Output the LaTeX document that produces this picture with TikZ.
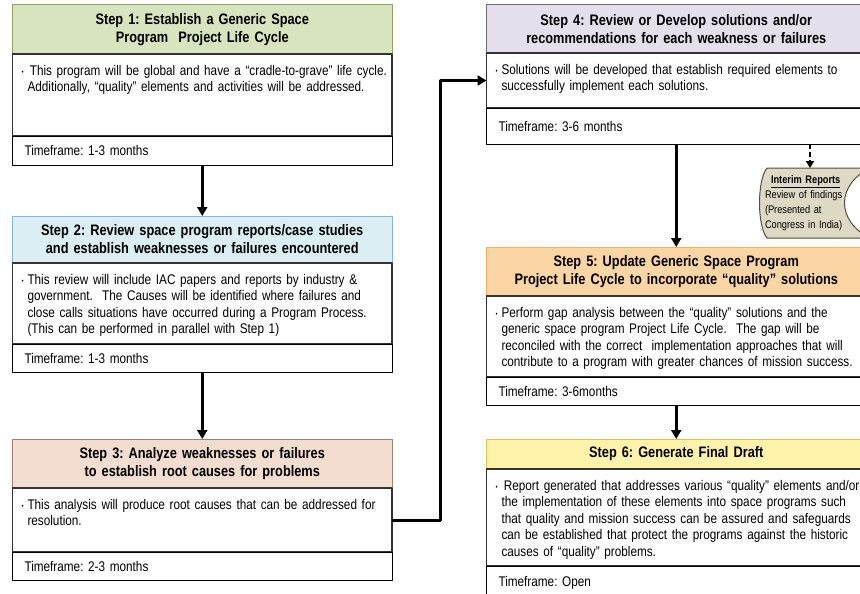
\documentclass[tikz,border=0pt]{standalone}
\usepackage{fontspec}
\setmainfont{Liberation Sans}[FakeStretch=0.84]
\usetikzlibrary{positioning,arrows.meta}

\definecolor{grnfill}{RGB}{215,228,189}
\definecolor{grnline}{RGB}{140,160,100}
\definecolor{blufill}{RGB}{219,238,244}
\definecolor{bluline}{RGB}{130,185,210}
\definecolor{pchfill}{RGB}{242,221,208}
\definecolor{pchline}{RGB}{165,130,110}
\definecolor{purfill}{RGB}{229,223,236}
\definecolor{purline}{RGB}{110,110,110}
\definecolor{orgfill}{RGB}{252,213,165}
\definecolor{orgline}{RGB}{247,175,95}
\definecolor{ylwfill}{RGB}{255,242,170}
\definecolor{ylwline}{RGB}{225,190,80}
\definecolor{tanfill}{RGB}{221,217,196}
\definecolor{tanline}{RGB}{80,80,60}

% body text: top aligned, bullet with hanging indent, lines may run into the padding
\newcommand{\bodytext}[2]{\vbox to #1{\vskip11pt\hyphenpenalty=10000\rightskip=-20pt plus 1fil
  \noindent\hangindent=6pt\hangafter=1\makebox[6pt][l]{\raisebox{1pt}{\scriptsize\textbullet}}#2\par\vfil}}

\tikzset{
  head/.style={draw, line width=1pt, outer sep=0pt, minimum width=379.5pt, text width=370pt,
    align=center, inner sep=0pt, anchor=north west, font=\fontsize{15.2}{18}\selectfont\bfseries},
  body/.style={draw=black!80, line width=1.2pt, outer sep=0pt, text width=361.5pt,
    inner xsep=9pt, inner ysep=0pt, align=left, anchor=north},
  time/.style={draw=black, line width=1pt, outer sep=0pt, text width=355.5pt,
    inner xsep=12pt, inner ysep=0pt, align=left, anchor=north},
  conn/.style={-{Triangle[length=9pt,width=10pt]}, line width=3pt},
  dconn/.style={-{Triangle[length=7pt,width=8pt]}, line width=2pt, dash pattern=on 5pt off 3pt}
}

\begin{document}
\frenchspacing
\begin{tikzpicture}[x=1pt, y=-1pt, font=\fontsize{14}{16.5}\selectfont, line join=round]
\useasboundingbox (0,0) rectangle (860,594);
\clip (0,0) rectangle (860,594);

% left column
\node[head, fill=grnfill, draw=grnline, minimum height=49pt] (h1) at (12.5,5)
  {Step 1: Establish a Generic Space\\Program~ Project Life Cycle};
\node[body, below=0pt of h1] (b1) {\bodytext{82pt}{\,This program will be global and have a ``cradle-to-grave'' life cycle.\newline Additionally, ``quality'' elements and activities will be addressed.}};
\node[time, below=0pt of b1, minimum height=29pt] (t1) {Timeframe: 1-3 months};

\node[head, fill=blufill, draw=bluline, minimum height=47pt] (h2) at (12.5,216)
  {Step 2: Review space program reports/case studies\\and establish weaknesses or failures encountered};
\node[body, below=0pt of h2] (b2) {\bodytext{81pt}{This review will include IAC papers and reports by industry \&\newline government.~ The Causes will be identified where failures and\newline close calls situations have occurred during a Program Process.\newline (This can be performed in parallel with Step 1)}};
\node[time, below=0pt of b2, minimum height=28pt] (t2) {Timeframe: 1-3 months};

\node[head, fill=pchfill, draw=pchline, minimum height=49pt] (h3) at (12.5,439)
  {Step 3: Analyze weaknesses or failures\\to establish root causes for problems};
\node[body, below=0pt of h3] (b3) {\bodytext{64pt}{This analysis will produce root causes that can be addressed for\newline resolution.}};
\node[time, below=0pt of b3, minimum height=28pt] (t3) {Timeframe: 2-3 months};

% right column
\node[head, fill=purfill, draw=purline, minimum height=48pt] (h4) at (486.5,5)
  {Step 4: Review or Develop solutions and/or\\recommendations for each weakness or failures};
\node[body, below=0pt of h4] (b4) {\bodytext{55pt}{Solutions will be developed that establish required elements to\newline successfully implement each solutions.}};
\node[time, below=0pt of b4, minimum height=36pt] (t4) {Timeframe: 3-6 months};

\node[head, fill=orgfill, draw=orgline, minimum height=49pt] (h5) at (486.5,247)
  {Step 5: Update Generic Space Program\\Project Life Cycle to incorporate ``quality'' solutions};
\node[body, below=0pt of h5] (b5) {\bodytext{81pt}{Perform gap analysis between the ``quality'' solutions and the\newline generic space program Project Life Cycle.~ The gap will be\newline reconciled with the correct~ implementation approaches that will\newline contribute to a program with greater chances of mission success.}};
\node[time, below=0pt of b5, minimum height=28pt] (t5) {Timeframe: 3-6months};

\node[head, fill=ylwfill, draw=ylwline, minimum height=30pt] (h6) at (486.5,439)
  {Step 6: Generate Final Draft};
\node[body, below=0pt of h6] (b6) {\bodytext{97pt}{\,Report generated that addresses various ``quality'' elements and/or\newline the implementation of these elements into space programs such\newline that quality and mission success can be assured and safeguards\newline can be established that protect the programs against the historic\newline causes of ``quality'' problems.}};
\node[time, below=0pt of b6, minimum height=34pt] (t6) {Timeframe: Open};

% interim reports
\draw[tanline, fill=tanfill, line width=1pt] (767,168) -- (870,168) .. controls (836,185) and (836,221) .. (870,238)
  -- (767,238) .. controls (757,226) and (757,180) .. (767,168) -- cycle;
\node[text width=90pt, align=left, inner sep=0pt,
  font=\fontsize{11}{15}\selectfont] (ir) at (810,203)
  {\hspace*{6pt}\textbf{\underline{Interim Reports}}\\Review of findings\\(Presented at\\Congress in India)};

% connectors
\draw[conn] (t1) -- (h2);
\draw[conn] (t2) -- (h3);
\draw[conn] (b3.east) -- ++(48,0) |- (b4.west);
\draw[conn] (t4) -- (h5);
\draw[conn] (t5) -- (h6);
\draw[dconn] (810,0 |- t4.south) -- (810,168);
\end{tikzpicture}
\end{document}
